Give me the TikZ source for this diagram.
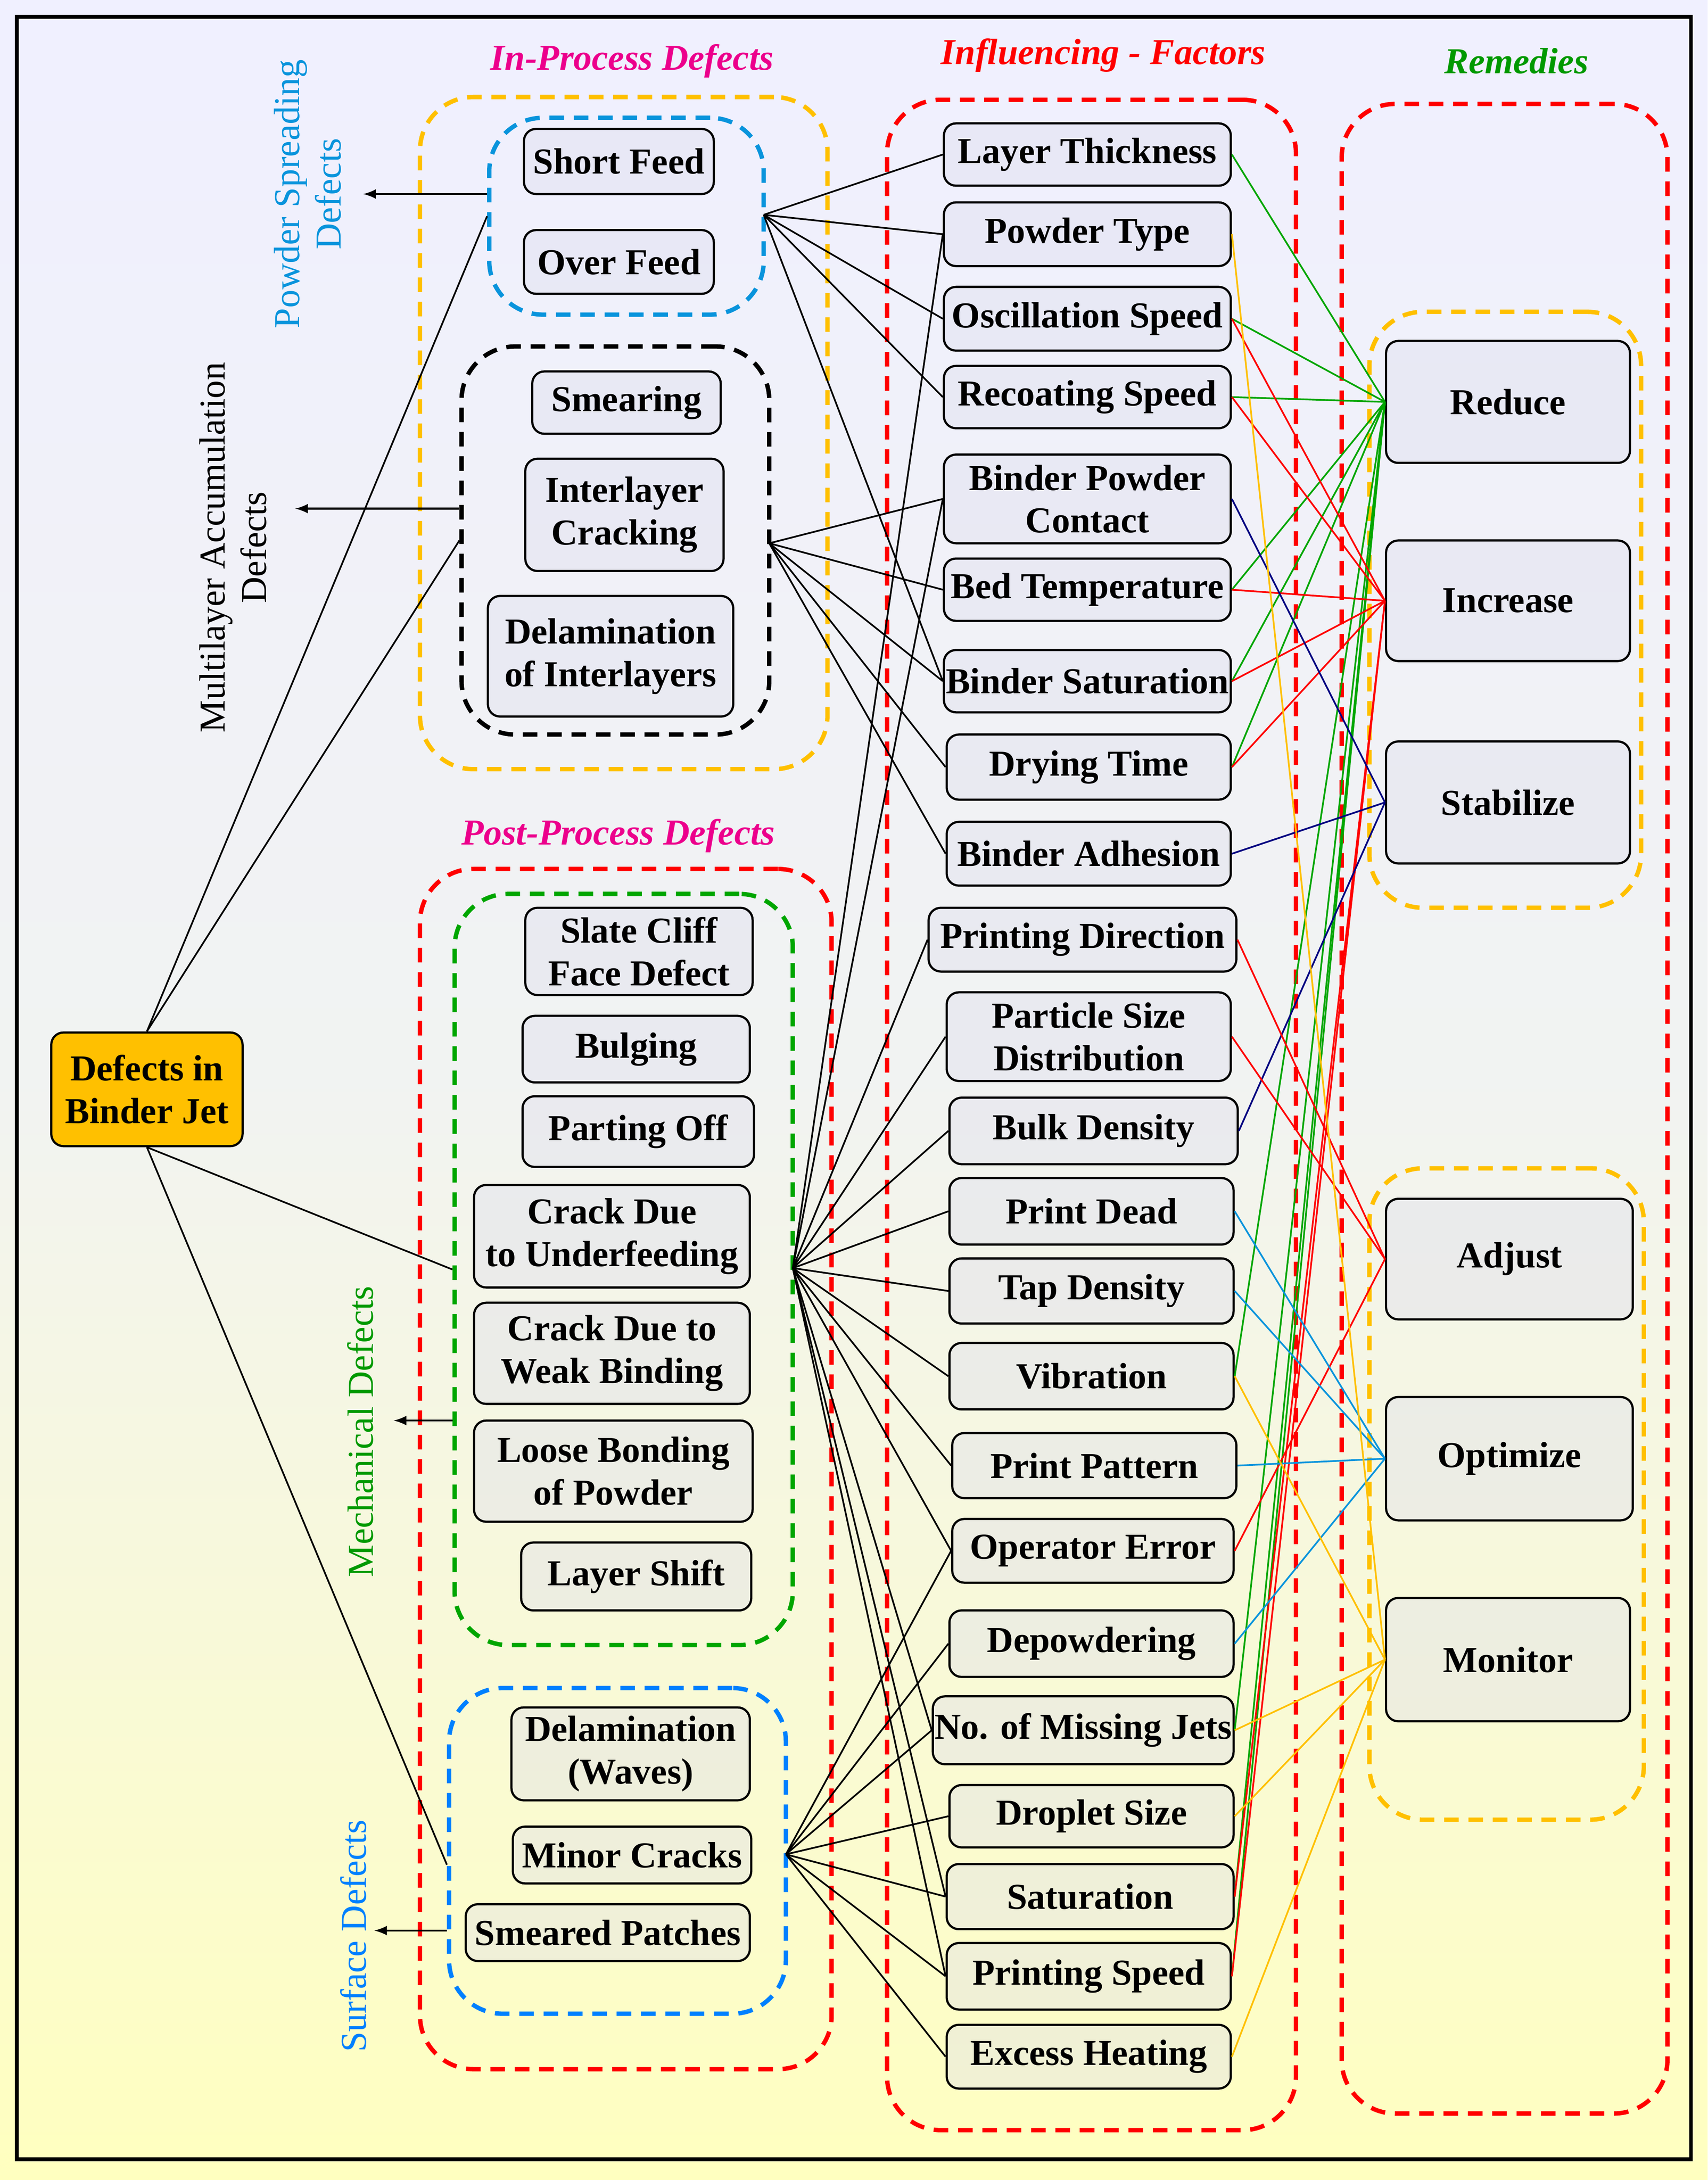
\documentclass[tikz,border=0pt]{standalone}
\usepackage{fontspec}
\setmainfont{Liberation Serif}
\begin{document}
\begin{tikzpicture}[x=0.02cm,y=-0.02cm,
 box/.style={draw,rounded corners=5pt,line width=0.9pt,fill=blue!30!gray!20,fill opacity=0.4,text opacity=1,align=center,inner sep=0pt,font=\fontsize{15}{17.5}\selectfont\bfseries},
 grp/.style={draw,dashed,rounded corners=22pt,line width=1.8pt,dash pattern=on 6pt off 4pt,inner sep=0pt},
 ln/.style={line width=0.7pt},
 lab/.style={font=\fontsize{15}{17}\selectfont\bfseries\itshape},
 side/.style={font=\fontsize{15}{17}\selectfont,rotate=90,align=center},
 arr/.style={-latex,line width=0.8pt}]
\definecolor{gold}{HTML}{FFC000}
\newcommand\bx[7][box]{\pgfmathsetmacro\w{(#5-#3)*0.02}\pgfmathsetmacro\h{(#6-#4)*0.02}\node[#1,minimum width=\w cm,minimum height=\h cm] (#2) at ({(#3+#5)/2},{(#4+#6)/2}) {#7};}
\useasboundingbox (0,0) rectangle (1232,1573);
\shade[top color=blue!6,bottom color=yellow!25,middle color=green!6!gray!10] (0,0) rectangle (1232,1573);
\draw[line width=1.6pt] (12,12) rectangle (1220,1558);
% labels
\node[lab,text=magenta] (l1) at (456,44) {In-Process Defects};
\node[lab,text=red] (l2) at (796,40) {Influencing - Factors};
\node[lab,text=green!60!black] (l3) at (1094,44) {Remedies};
\node[lab,text=magenta] (l4) at (446,603) {Post-Process Defects};
% groups
\bx[grp,draw=gold]{gin}{303}{70}{597}{555}{}
\bx[grp,draw=cyan!80!blue]{gps}{353}{85}{551}{227}{}
\bx[grp,draw=black]{gml}{333}{250}{555}{530}{}
\bx[grp,draw=red]{gpost}{303}{627}{600}{1493}{}
\bx[grp,draw=green!65!black]{gmech}{328}{645}{572}{1187}{}
\bx[grp,draw=blue!50!cyan]{gsurf}{324}{1218}{567}{1453}{}
\bx[grp,draw=red]{gfac}{640}{72}{935}{1537}{}
\bx[grp,draw=red]{grem}{968}{75}{1203}{1525}{}
\bx[grp,draw=gold]{gr1}{988}{225}{1184}{655}{}
\bx[grp,draw=gold]{gr2}{988}{843}{1186}{1313}{}
% root
\bx[box,fill=gold,fill opacity=1]{root}{37}{745}{175}{827}{Defects in\\Binder Jet}
% defects
\bx{d1}{378}{93}{515}{140}{Short Feed}
\bx{d2}{378}{166}{515}{212}{Over Feed}
\bx{d3}{384}{268}{520}{313}{Smearing}
\bx{d4}{379}{331}{522}{412}{Interlayer\\Cracking}
\bx{d5}{352}{430}{529}{517}{Delamination\\of Interlayers}
\bx{d6}{379}{655}{543}{718}{Slate Cliff\\Face Defect}
\bx{d7}{377}{733}{541}{781}{Bulging}
\bx{d8}{377}{791}{544}{842}{Parting Off}
\bx{d9}{342}{855}{541}{929}{Crack Due\\to Underfeeding}
\bx{d10}{342}{940}{541}{1013}{Crack Due to\\Weak Binding}
\bx{d11}{342}{1025}{543}{1098}{Loose Bonding\\of Powder}
\bx{d12}{376}{1113}{542}{1162}{Layer Shift}
\bx{d13}{369}{1232}{541}{1299}{Delamination\\(Waves)}
\bx{d14}{370}{1318}{542}{1359}{Minor Cracks}
\bx{d15}{336}{1374}{541}{1415}{Smeared Patches}
% side labels
\node[side,text=cyan!80!blue] (s1) at (222,140) {Powder Spreading\\Defects};
\node[side] (s2) at (168,395) {Multilayer Accumulation\\Defects};
\node[side,text=green!60!black] (s3) at (260,1033) {Mechanical Defects};
\node[side,text=blue!50!cyan] (s4) at (255,1397) {Surface Defects};
\coordinate (a1) at (262,140); \coordinate (a2) at (213,367);
\coordinate (a3) at (284,1025); \coordinate (a4) at (270,1393);
\draw[arr] (gps.west|-a1) -- (a1);
\draw[arr] (gml.west|-a2) -- (a2);
\draw[arr] (gmech.west|-a3) -- (a3);
\draw[arr] (gsurf.west|-a4) -- (a4);
% factors
\bx{f1}{681}{89}{888}{134}{Layer Thickness}
\bx{f2}{681}{146}{888}{192}{Powder  Type}
\bx{f3}{681}{207}{888}{253}{Oscillation Speed}
\bx{f4}{681}{264}{888}{309}{Recoating Speed}
\bx{f5}{681}{328}{888}{392}{Binder Powder\\Contact}
\bx{f6}{681}{403}{888}{448}{Bed Temperature}
\bx{f7}{681}{469}{888}{514}{Binder Saturation}
\bx{f8}{683}{530}{888}{577}{Drying Time}
\bx{f9}{683}{593}{888}{639}{Binder Adhesion}
\bx{f10}{670}{655}{892}{701}{Printing  Direction}
\bx{f11}{683}{716}{888}{780}{Particle  Size\\Distribution}
\bx{f12}{685}{792}{893}{840}{Bulk Density}
\bx{f13}{685}{850}{890}{898}{Print  Dead}
\bx{f14}{685}{908}{890}{955}{Tap Density}
\bx{f15}{685}{969}{890}{1017}{Vibration}
\bx{f16}{687}{1034}{892}{1081}{Print  Pattern}
\bx{f17}{687}{1096}{890}{1142}{Operator  Error}
\bx{f18}{685}{1162}{890}{1210}{Depowdering}
\bx{f19}{673}{1224}{890}{1273}{No. of Missing Jets}
\bx{f20}{685}{1288}{890}{1333}{Droplet Size}
\bx{f21}{683}{1345}{890}{1392}{Saturation}
\bx{f22}{683}{1402}{888}{1450}{Printing  Speed}
\bx{f23}{683}{1461}{888}{1507}{Excess Heating}
% remedies
\bx{r1}{1000}{246}{1176}{334}{Reduce}
\bx{r2}{1000}{390}{1176}{477}{Increase}
\bx{r3}{1000}{535}{1176}{623}{Stabilize}
\bx{r4}{1000}{865}{1178}{952}{Adjust}
\bx{r5}{1000}{1008}{1178}{1097}{Optimize}
\bx{r6}{1000}{1153}{1176}{1242}{Monitor}
% root links
\draw[ln] (root.north) -- (gps.west);
\draw[ln] (root.north) -- (gml.west);
\draw[ln] (root.south) -- (gmech.west);
\draw[ln] (root.south) -- ([yshift=-0.2cm]gsurf.west);
% defect group to factors
\coordinate (jp) at (551,155); \coordinate (jm) at (555,392);
\coordinate (jc) at (572,915); \coordinate (js) at (567,1338);
\foreach \f in {f1,f2,f3,f4,f7} \draw[ln] (jp) -- (\f.west);
\foreach \f in {f5,f6,f7,f8,f9} \draw[ln] (jm) -- (\f.west);
\foreach \f in {f2,f5,f10,f11,f12,f13,f14,f15,f16,f17,f19,f21,f22} \draw[ln] (jc) -- (\f.west);
\foreach \f in {f17,f18,f19,f20,f21,f22,f23} \draw[ln] (js) -- (\f.west);
% factor to remedies
\foreach \f in {f1,f3,f4,f6,f7,f8,f15,f19,f21,f22} \draw[ln,green!65!black] (\f.east) -- (r1.west);
\foreach \f in {f3,f4,f6,f7,f8,f21,f22} \draw[ln,red] (\f.east) -- (r2.west);
\foreach \f in {f5,f9,f12} \draw[ln,blue!50!black] (\f.east) -- (r3.west);
\foreach \f in {f10,f11,f17} \draw[ln,red] (\f.east) -- (r4.west);
\foreach \f in {f13,f14,f16,f18} \draw[ln,cyan!80!blue] (\f.east) -- (r5.west);
\foreach \f in {f2,f15,f19,f20,f23} \draw[ln,gold] (\f.east) -- (r6.west);
\end{tikzpicture}
\end{document}
